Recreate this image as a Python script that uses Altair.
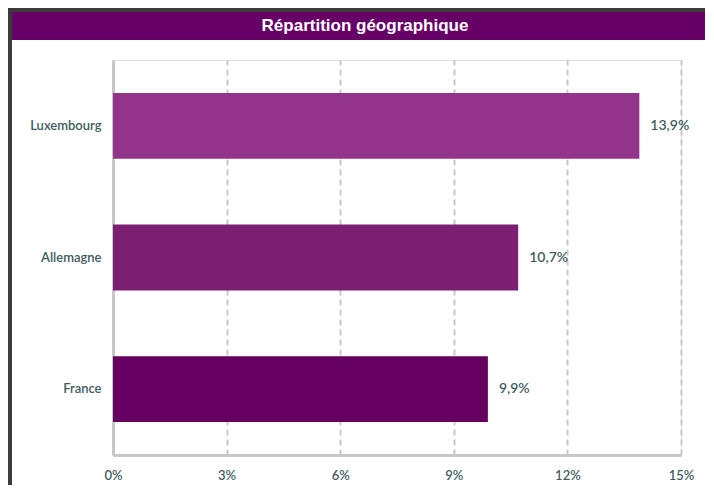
import altair as alt
import pandas as pd

countries = ["Luxembourg", "Allemagne", "France"]
values = [13.9, 10.7, 9.9]
colors = ["#92358A", "#7B1F73", "#660060"]
ticks = [0, 3, 6, 9, 12, 15]
title_text = "Répartition géographique"

df = pd.DataFrame({
    "pays": countries,
    "val": values,
    "lab": [f"{v:.1f}".replace(".", ",") + "%" for v in values],
})

FONT = "Lato"
TXT = "#3F5D5D"

x = alt.X("val:Q", scale=alt.Scale(domain=[0, 15], nice=False),
          axis=alt.Axis(values=ticks, labelExpr="datum.value + '%'", title=None,
                        ticks=False, grid=True, gridDash=[6, 4], gridColor="#C8C8C8",
                        gridWidth=2, domainColor="#C8C8C8", domainWidth=3,
                        labelFont=FONT, labelFontSize=13, labelColor=TXT,
                        labelPadding=14, labelFlush=False, labelFontWeight=600))
y = alt.Y("pays:N", sort=countries,
          scale=alt.Scale(paddingInner=0.5, paddingOuter=0.25),
          axis=alt.Axis(title=None, ticks=False, domainColor="#C8C8C8", domainWidth=3,
                        labelFont=FONT, labelFontSize=13, labelColor=TXT,
                        labelPadding=12, labelFontWeight=600))

bars = alt.Chart(df).mark_bar().encode(
    x=x, y=y,
    color=alt.Color("pays:N", scale=alt.Scale(domain=countries, range=colors), legend=None),
)
labels = alt.Chart(df).mark_text(align="left", dx=11, font=FONT, fontSize=14,
                                 fontWeight=600, color=TXT).encode(
    x="val:Q", y=alt.Y("pays:N", sort=countries), text="lab:N")

one = alt.Data(values=[{"a": 1}])
border_left = alt.Chart(one).mark_rect(color="#3C3C3C").encode(
    x=alt.value(-105), x2=alt.value(-101), y=alt.value(-52), y2=alt.value(440))
border_top = alt.Chart(one).mark_rect(color="#3C3C3C").encode(
    x=alt.value(-105), x2=alt.value(610), y=alt.value(-52), y2=alt.value(-48))
band = alt.Chart(one).mark_rect(color="#660066").encode(
    x=alt.value(-101), x2=alt.value(610), y=alt.value(-48), y2=alt.value(-20))
title = alt.Chart(one).mark_text(color="white", font="Liberation Sans", fontSize=17,
                                 fontWeight="bold", align="center", baseline="middle").encode(
    x=alt.value(252), y=alt.value(-34), text=alt.value(title_text))

chart = alt.layer(border_left, border_top, band, title, bars, labels).properties(
    width=568, height=395,
    autosize=alt.AutoSizeParams(type="none"),
    padding={"left": 105, "top": 52, "right": 24, "bottom": 30},
).configure_view(stroke=None).configure(background="white")

chart.save("out.html", embed_options={"renderer": "svg", "actions": False})
